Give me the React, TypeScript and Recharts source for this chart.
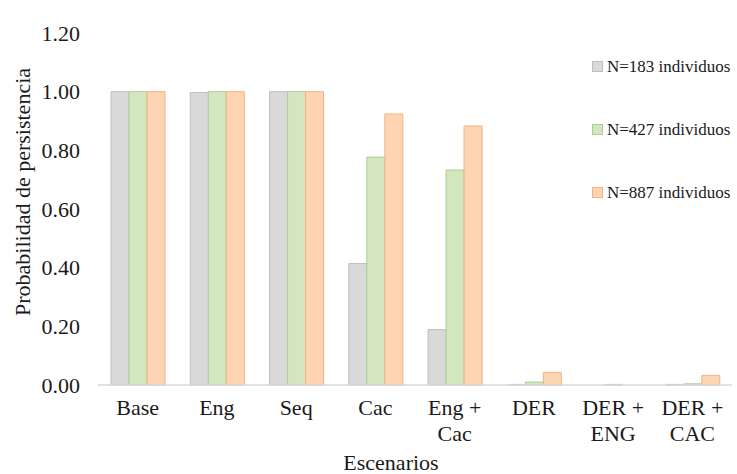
import { BarChart, Bar, XAxis, YAxis, Legend, Label } from "recharts";

const categories = ["Base", "Eng", "Seq", "Cac", "Eng + Cac", "DER", "DER + ENG", "DER + CAC"];
const n183 = [1.0, 0.997, 1.0, 0.414, 0.189, 0.002, 0.0, 0.002];
const n427 = [1.0, 1.0, 1.0, 0.777, 0.733, 0.01, 0.002, 0.004];
const n887 = [1.0, 1.0, 1.0, 0.924, 0.883, 0.043, 0.0, 0.033];
const yTicks = [0, 0.2, 0.4, 0.6, 0.8, 1.0, 1.2];

const series = [
  { key: "n183", name: "N=183 individuos", fill: "#d9d9d9", stroke: "#bfbfbf" },
  { key: "n427", name: "N=427 individuos", fill: "#d4e6bf", stroke: "#a9d18e" },
  { key: "n887", name: "N=887 individuos", fill: "#fdd5b3", stroke: "#f4b183" },
];

const data = categories.map((c, i) => ({
  name: c,
  n183: n183[i],
  n427: n427[i],
  n887: n887[i],
}));

const FONT = '"Liberation Serif", "Times New Roman", serif';
const TEXT = "#1a1a1a";

function CategoryTick({ x, y, payload }: any) {
  const label: string = payload.value;
  const idx = label.indexOf("+");
  const lines = idx >= 0 ? [label.slice(0, idx + 1), label.slice(idx + 1).trim()] : [label];
  return (
    <text x={x} y={y} textAnchor="middle" fontFamily={FONT} fontSize={22} fill={TEXT}>
      {lines.map((l, i) => (
        <tspan key={i} x={x} dy={i === 0 ? 22 : 26}>
          {l}
        </tspan>
      ))}
    </text>
  );
}

function LegendBox() {
  return (
    <div style={{ fontFamily: FONT, fontSize: 17, color: TEXT }}>
      {series.map((s) => (
        <div key={s.key} style={{ display: "flex", alignItems: "center", height: 63 }}>
          <span
            style={{
              display: "inline-block",
              width: 9,
              height: 9,
              background: s.fill,
              border: `1px solid ${s.stroke}`,
              marginRight: 4,
            }}
          />
          <span>{s.name}</span>
        </div>
      ))}
    </div>
  );
}

export default function App() {
  return (
    <div style={{ position: "absolute", left: 0, top: 0, width: 737, height: 474, background: "#fff" }}>
      <BarChart
        width={737}
        height={474}
        data={data}
        margin={{ top: 33, right: 5, bottom: 0, left: 0 }}
        barCategoryGap="16.5%"
        barGap={0}
      >
        <XAxis
          dataKey="name"
          height={89}
          axisLine={{ stroke: "#d9d9d9", strokeWidth: 1.5 }}
          tickLine={false}
          interval={0}
          tick={<CategoryTick />}
        >
          <Label
            content={() => (
              <text x={391} y={470} textAnchor="middle" fontFamily={FONT} fontSize={22} fill={TEXT}>
                Escenarios
              </text>
            )}
          />
        </XAxis>
        <YAxis
          width={98}
          domain={[0, 1.2]}
          ticks={yTicks}
          tickFormatter={(v: number) => v.toFixed(2)}
          axisLine={false}
          tickLine={false}
          tickMargin={12}
          tick={{ fontFamily: FONT, fontSize: 22, fill: TEXT }}
        >
          <Label
            content={() => (
              <text
                x={22}
                y={192}
                transform="rotate(-90 22 192)"
                textAnchor="middle"
                dominantBaseline="central"
                fontFamily={FONT}
                fontSize={22}
                fill={TEXT}
              >
                Probabilidad de persistencia
              </text>
            )}
          />
        </YAxis>
        <Legend
          layout="horizontal"
          verticalAlign="middle"
          align="center"
          content={<LegendBox />}
          wrapperStyle={{ left: 592, top: 35, width: 145, height: 190 }}
        />
        {series.map((s) => (
          <Bar
            key={s.key}
            dataKey={s.key}
            name={s.name}
            fill={s.fill}
            stroke={s.stroke}
            strokeWidth={1}
            isAnimationActive={false}
          />
        ))}
      </BarChart>
    </div>
  );
}
